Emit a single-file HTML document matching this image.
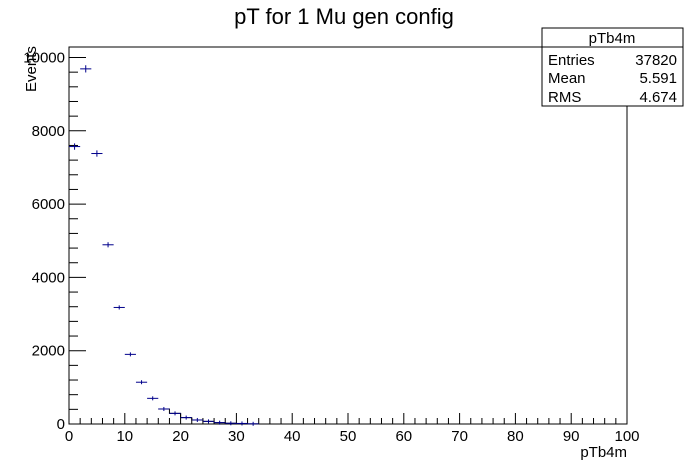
<!DOCTYPE html>
<html><head><meta charset="utf-8"><style>
body{margin:0;background:#fff}
svg{display:block;font-family:"Liberation Sans",sans-serif}
</style></head><body>
<svg id="c" width="696" height="472">
<text x="344" y="24" font-size="22" text-anchor="middle">pT for 1 Mu gen config</text>
<rect x="69" y="47" width="558" height="377" fill="none" stroke="#000"/>
<g id="ax"></g>
<g id="marks"></g>
<text x="627" y="457" font-size="15" text-anchor="end">pTb4m</text>
<text transform="translate(36,92) rotate(-90)" font-size="15" text-anchor="start">Events</text>
<g>
<rect x="542" y="28" width="141" height="78" fill="#fff" stroke="#000"/>
<line x1="542" y1="47" x2="683" y2="47" stroke="#000"/>
<text x="612" y="43" font-size="15" text-anchor="middle">pTb4m</text>
<text x="548" y="65" font-size="15">Entries</text><text x="677" y="65" font-size="15" text-anchor="end">37820</text>
<text x="548" y="83" font-size="15">Mean</text><text x="677" y="83" font-size="15" text-anchor="end">5.591</text>
<text x="548" y="102" font-size="15">RMS</text><text x="677" y="102" font-size="15" text-anchor="end">4.674</text>
</g>
</svg>
<script>
const binCenters=[1,3,5,7,9,11,13,15,17,19,21,23,25,27,29,31,33];
const counts=[7570,9690,7380,4890,3180,1900,1140,700,410,290,175,110,72,37,20,15,5];
const xTicks=[0,10,20,30,40,50,60,70,80,90,100];
const yTicks=[0,2000,4000,6000,8000,10000];
const X0=69,X1=627,Y0=424,PX=0.03665;
const sx=v=>X0+(v-0)*(X1-X0)/100;
const sy=v=>Y0-v*PX;
const NS="http://www.w3.org/2000/svg";
function mk(t,a,p){const e=document.createElementNS(NS,t);for(const k in a)e.setAttribute(k,a[k]);p.appendChild(e);return e;}
const ax=document.getElementById('ax'),mg=document.getElementById('marks');
for(let v=0;v<=100;v+=2){const major=v%10===0;const l=mk('line',{x1:sx(v),x2:sx(v),y1:Y0,y2:Y0-(major?11:6),stroke:'#000'},ax);

}
xTicks.forEach(v=>{const t=mk('text',{x:sx(v),y:Y0+17,'font-size':15,'text-anchor':'middle'},ax);t.textContent=v;

});
for(let v=0;v<=10200;v+=400){if(sy(v)<47)break;const major=v%2000===0;const l=mk('line',{x1:X0,x2:X0+(major?17:9),y1:sy(v),y2:sy(v),stroke:'#000'},ax);

}
yTicks.forEach(v=>{const t=mk('text',{x:X0-4,y:sy(v)+5,'font-size':15,'text-anchor':'end'},ax);t.textContent=v;

});
// step outline for tail bins only
let d='';let first=true;binCenters.forEach((c,i)=>{if(c<17)return;const y=sy(counts[i]);d+=(first?'M':'L')+sx(c-1)+','+y+'L'+sx(c+1)+','+y;first=false;});
const p=mk('path',{d:d,fill:'none',stroke:'#000','stroke-width':1},mg);


binCenters.forEach((c,i)=>{const y=sy(counts[i]);const e=Math.sqrt(counts[i])*PX;
const g=mk('g',{stroke:'#00008b','stroke-width':1},mg);


mk('line',{x1:sx(c-1),x2:sx(c+1),y1:y,y2:y},g);
mk('line',{x1:sx(c),x2:sx(c),y1:y-Math.max(e,2),y2:y+Math.max(e,2)},g);});
</script>
</body></html>
